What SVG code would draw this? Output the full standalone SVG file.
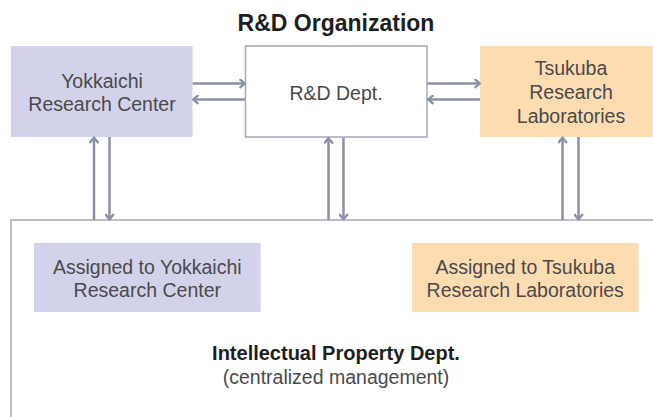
<svg xmlns="http://www.w3.org/2000/svg" width="653" height="417" viewBox="0 0 653 417">
  <style>
    .lbl { font-family: "Liberation Sans", Arial, sans-serif; font-size: 19.5px; fill: #4a4a4a; text-anchor: middle; }
    .bold { font-family: "Liberation Sans", Arial, sans-serif; font-weight: bold; fill: #1e1e1e; text-anchor: middle; }
    .lav { fill: #d2d2ea; }
    .org { fill: #fddcb2; }
    .frame { fill: #ffffff; stroke: #a6aabb; stroke-width: 1.5; }
    .conn { stroke: #8b91a5; stroke-width: 2.5; fill: none; marker-end: url(#head); }
  </style>
  <defs>
    <marker id="head" viewBox="0 0 10 10" refX="8.6" refY="5" markerWidth="10" markerHeight="10" markerUnits="userSpaceOnUse" orient="auto">
      <path d="M3.2,0.6 L8.4,5 L3.2,9.4" fill="none" stroke="#8b91a5" stroke-width="2.3"/>
    </marker>
  </defs>

  <rect width="653" height="417" fill="#ffffff"/>

  <text class="bold" x="336" y="31" font-size="23">R&amp;D Organization</text>

  <!-- Intellectual Property Dept. (outer frame) -->
  <g id="ip-dept">
    <rect class="frame" x="11" y="220" width="680" height="240"/>
    <text class="bold" x="336" y="360" font-size="20">Intellectual Property Dept.</text>
    <text class="lbl" x="336" y="383.5">(centralized management)</text>
  </g>

  <g id="yokkaichi">
    <rect class="lav" x="11" y="46" width="181.5" height="91"/>
    <text class="lbl" x="102" y="87.5">Yokkaichi</text>
    <text class="lbl" x="102" y="110.5">Research Center</text>
  </g>

  <g id="rd-dept">
    <rect class="frame" x="245.5" y="46" width="181.5" height="91"/>
    <text class="lbl" x="336" y="99.5">R&amp;D Dept.</text>
  </g>

  <g id="tsukuba">
    <rect class="org" x="480" y="46" width="180" height="91"/>
    <text class="lbl" x="571" y="74.5">Tsukuba</text>
    <text class="lbl" x="571" y="98.5">Research</text>
    <text class="lbl" x="571" y="122.5">Laboratories</text>
  </g>

  <g id="ip-yokkaichi">
    <rect class="lav" x="34" y="243" width="226.5" height="69"/>
    <text class="lbl" x="147.3" y="273.5">Assigned to Yokkaichi</text>
    <text class="lbl" x="147.3" y="297">Research Center</text>
  </g>

  <g id="ip-tsukuba">
    <rect class="org" x="412" y="243" width="226.5" height="69"/>
    <text class="lbl" x="525.2" y="273.5">Assigned to Tsukuba</text>
    <text class="lbl" x="525.2" y="297">Research Laboratories</text>
  </g>

  <g id="connectors">
    <!-- Yokkaichi <-> R&D Dept. -->
    <line class="conn" x1="192.5" y1="83.5" x2="245" y2="83.5"/>
    <line class="conn" x1="245" y1="99.5" x2="193" y2="99.5"/>
    <!-- R&D Dept. <-> Tsukuba -->
    <line class="conn" x1="427.5" y1="83.5" x2="480" y2="83.5"/>
    <line class="conn" x1="480" y1="99.5" x2="428" y2="99.5"/>
    <!-- vertical links to the IP frame -->
    <line class="conn" x1="94" y1="220" x2="94" y2="137.5"/>
    <line class="conn" x1="109.5" y1="137" x2="109.5" y2="219.5"/>
    <line class="conn" x1="328.5" y1="220" x2="328.5" y2="138"/>
    <line class="conn" x1="343.5" y1="137.5" x2="343.5" y2="219.5"/>
    <line class="conn" x1="562.5" y1="220" x2="562.5" y2="137.5"/>
    <line class="conn" x1="578.5" y1="137" x2="578.5" y2="219.5"/>
  </g>
</svg>
